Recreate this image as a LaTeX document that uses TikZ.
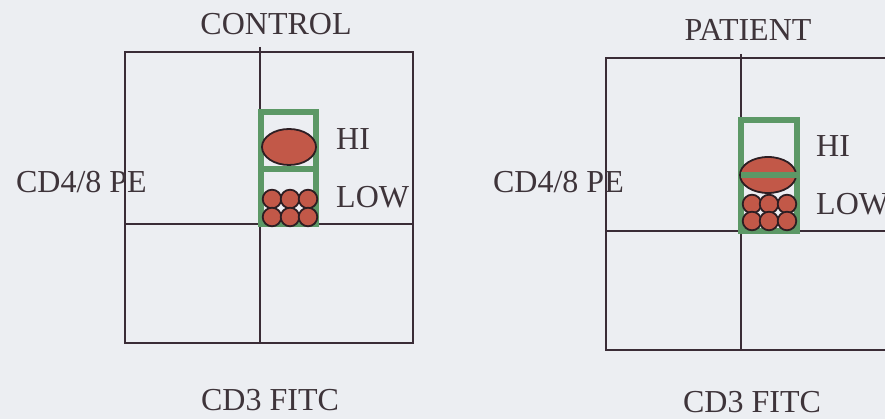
\documentclass[tikz,border=0pt]{standalone}
\usepackage{fontspec}
\setmainfont{Liberation Serif}
\definecolor{bgc}{RGB}{236,238,242}
\definecolor{axc}{RGB}{58,44,54}
\definecolor{txc}{RGB}{62,52,58}
\definecolor{gatec}{RGB}{92,152,102}
\definecolor{cellc}{RGB}{194,88,72}
\definecolor{cellline}{RGB}{45,30,35}
\tikzset{
  axis/.style={draw=axc, line width=1.8pt},
  gate/.style={draw=gatec, line width=6pt},
  cell/.style={fill=cellc, draw=cellline, line width=1.8pt},
  lbl/.style={text=txc, font=\fontsize{32}{38}\selectfont, inner sep=0pt}
}
\begin{document}
\begin{tikzpicture}[x=1pt,y=-1pt]
\useasboundingbox (0,0) rectangle (885,419);
\fill[bgc] (0,0) rectangle (885,419);
\clip (0,0) rectangle (885,419);
% ---------- CONTROL ----------
\draw[axis] (125,52) rectangle (413,343);
\coordinate (cvt) at (260,47);
\coordinate (cvb) at (260,343);
\coordinate (chl) at (125,224);
\coordinate (chr) at (413,224);
\draw[axis] (cvt) -- (cvb);
\draw[axis] (chl) -- (chr);
\draw[gate] (261,112) rectangle (316,224);
\draw[gate] (261,169) -- (316,169);
\foreach \x in {272,290,308}{
  \foreach \y in {199,217}{
    \draw[cell] (\x,\y) circle (9.3);
  }
}
\draw[cell] (289,147) ellipse (27 and 18);
\node[lbl, anchor=base] (ctitle) at (276,35) {CONTROL};
\node[lbl, anchor=base west] (chi) at (336,150) {HI};
\node[lbl, anchor=base west] (clow) at (336,208) {LOW};
\node[lbl, anchor=base east] (cy) at (147,193) {CD4/8 PE};
\node[lbl, anchor=base] (cx) at (270,410) {CD3 FITC};
% ---------- PATIENT ----------
\draw[axis] (606,58) rectangle (900,350);
\coordinate (pvt) at (741,54);
\coordinate (pvb) at (741,350);
\coordinate (phl) at (606,231);
\coordinate (phr) at (900,231);
\draw[axis] (pvt) -- (pvb);
\draw[axis] (phl) -- (phr);
\draw[gate] (741,120) rectangle (797,231);
\foreach \x in {752,769,787}{
  \foreach \y in {204,221}{
    \draw[cell] (\x,\y) circle (9.3);
  }
}
\draw[cell] (768,175) ellipse (28 and 18);
\draw[gate] (741,175) -- (797,175);
\node[lbl, anchor=base] (ptitle) at (748,41) {PATIENT};
\node[lbl, anchor=base west] (phi) at (816,157) {HI};
\node[lbl, anchor=base west] (plow) at (816,215) {LOW};
\node[lbl, anchor=base east] (py) at (624,193) {CD4/8 PE};
\node[lbl, anchor=base] (px) at (752,412) {CD3 FITC};
\end{tikzpicture}
\end{document}
